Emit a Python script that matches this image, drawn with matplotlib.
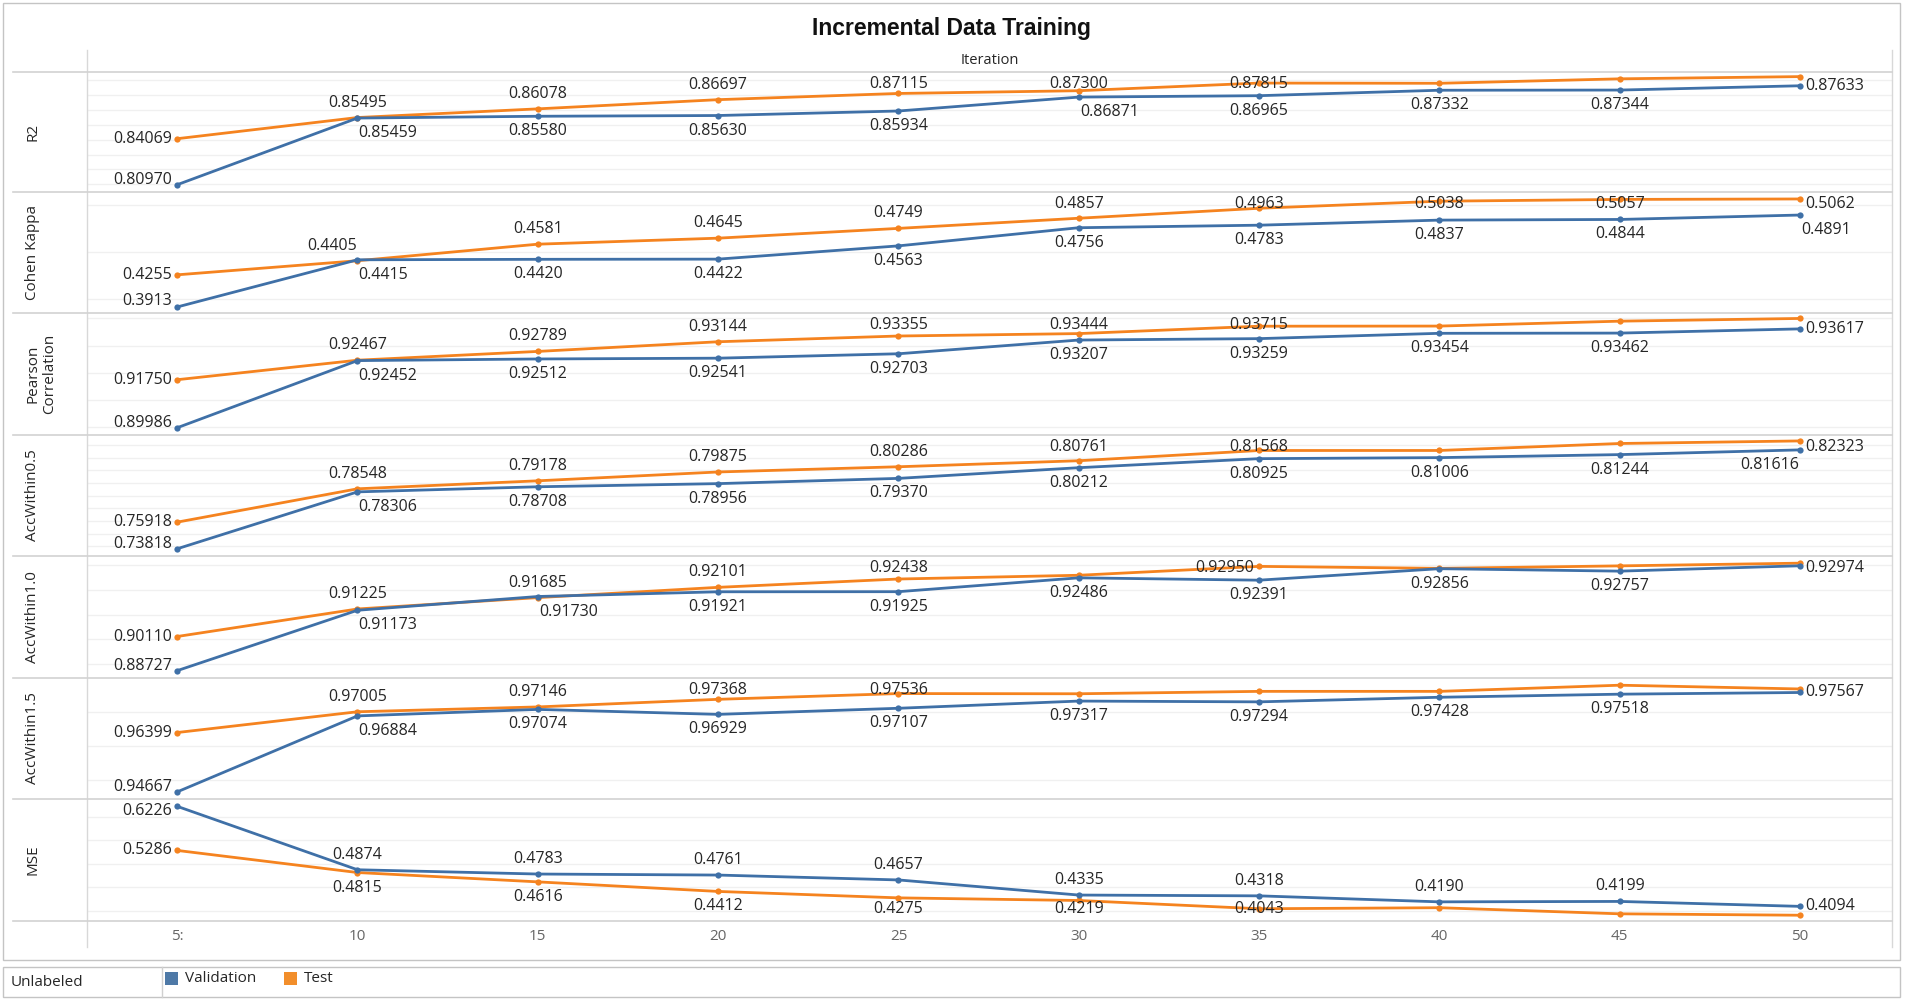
import matplotlib
matplotlib.use('Agg')
import matplotlib.pyplot as plt
from matplotlib.lines import Line2D
from matplotlib.patches import Rectangle
from matplotlib.ticker import MultipleLocator

plt.rcParams['font.family'] = ['Open Sans', 'DejaVu Sans']

# ---------------- data ----------------
iterations = [5, 10, 15, 20, 25, 30, 35, 40, 45, 50]
x_tick_labels = ['5:', '10', '15', '20', '25', '30', '35', '40', '45', '50']
metric_names = ['R2', 'Cohen Kappa', 'Pearson\nCorrelation', 'AccWithin0.5',
                'AccWithin1.0', 'AccWithin1.5', 'MSE']
series_names = ['Validation', 'Test']

r2_validation = [0.80970, 0.85459, 0.85580, 0.85630, 0.85934, 0.86871, 0.86965, 0.87332, 0.87344, 0.87633]
r2_test = [0.84069, 0.85495, 0.86078, 0.86697, 0.87115, 0.87300, 0.87815, 0.8780, 0.8810, 0.8825]
kappa_validation = [0.3913, 0.4415, 0.4420, 0.4422, 0.4563, 0.4756, 0.4783, 0.4837, 0.4844, 0.4891]
kappa_test = [0.4255, 0.4405, 0.4581, 0.4645, 0.4749, 0.4857, 0.4963, 0.5038, 0.5057, 0.5062]
pearson_validation = [0.89986, 0.92452, 0.92512, 0.92541, 0.92703, 0.93207, 0.93259, 0.93454, 0.93462, 0.93617]
pearson_test = [0.91750, 0.92467, 0.92789, 0.93144, 0.93355, 0.93444, 0.93715, 0.9372, 0.9390, 0.9400]
acc05_validation = [0.73818, 0.78306, 0.78708, 0.78956, 0.79370, 0.80212, 0.80925, 0.81006, 0.81244, 0.81616]
acc05_test = [0.75918, 0.78548, 0.79178, 0.79875, 0.80286, 0.80761, 0.81568, 0.8157, 0.8212, 0.82323]
acc10_validation = [0.88727, 0.91173, 0.91730, 0.91921, 0.91925, 0.92486, 0.92391, 0.92856, 0.92757, 0.92974]
acc10_test = [0.90110, 0.91225, 0.91685, 0.92101, 0.92438, 0.9259, 0.92950, 0.9287, 0.9297, 0.9308]
acc15_validation = [0.94667, 0.96884, 0.97074, 0.96929, 0.97107, 0.97317, 0.97294, 0.97428, 0.97518, 0.97567]
acc15_test = [0.96399, 0.97005, 0.97146, 0.97368, 0.97536, 0.9753, 0.9760, 0.9760, 0.9778, 0.9767]
mse_validation = [0.6226, 0.4874, 0.4783, 0.4761, 0.4657, 0.4335, 0.4318, 0.4190, 0.4199, 0.4094]
mse_test = [0.5286, 0.4815, 0.4616, 0.4412, 0.4275, 0.4219, 0.4043, 0.4065, 0.3935, 0.3905]

validation_series = [r2_validation, kappa_validation, pearson_validation, acc05_validation,
                     acc10_validation, acc15_validation, mse_validation]
test_series = [r2_test, kappa_test, pearson_test, acc05_test, acc10_test, acc15_test, mse_test]
label_decimals = [5, 4, 5, 5, 5, 5, 4]

# ---------------- label placement (Tableau-like) ----------------
val_label_pos = [
    ['l', 'br', 'b', 'b', 'b', 'br', 'b', 'b', 'b', 'r'],
    ['l', 'br', 'b', 'b', 'b', 'b', 'b', 'b', 'b', 'br'],
    ['l', 'br', 'b', 'b', 'b', 'b', 'b', 'b', 'b', 'r'],
    ['l', 'br', 'b', 'b', 'b', 'b', 'b', 'b', 'b', 'bl'],
    ['l', 'br', 'br', 'b', 'b', 'b', 'b', 'b', 'b', 'r'],
    ['l', 'br', 'b', 'b', 'b', 'b', 'b', 'b', 'b', 'r'],
    ['l', 'a', 'a', 'a', 'a', 'a', 'a', 'a', 'a', 'r'],
]
test_label_pos = [
    ['l', 'a', 'a', 'a', 'a', 'a', 'a', '', '', ''],
    ['l', 'al', 'a', 'a', 'a', 'a', 'a', 'a', 'a', 'r'],
    ['l', 'a', 'a', 'a', 'a', 'a', 'a', '', '', ''],
    ['l', 'a', 'a', 'a', 'a', 'a', 'a', '', '', 'r'],
    ['l', 'a', 'a', 'a', 'a', '', 'l', '', '', ''],
    ['l', 'a', 'a', 'a', 'a', '', '', '', '', ''],
    ['l', 'b', 'b', 'b', 'b', 'b', 'b', '', '', ''],
]
y_limits = [(0.8048, 0.8856), (0.3849, 0.5136), (0.8972, 0.9420), (0.7325, 0.8279),
            (0.8843, 0.9337), (0.9446, 0.9799), (0.3782, 0.6382)]
grid_steps = [0.01, 0.05, 0.01, 0.01, 0.01, 0.01, 0.05]
row_label_x = [33, 33, 41, 33, 33, 33, 33]

# ---------------- styles ----------------
W, H = 1905, 1001
BLUE = '#3F70A7'
ORANGE = '#F5831F'
TXT = '#262626'
SEP = '#d2d2d2'

fig = plt.figure(figsize=(W / 100, H / 100), dpi=100)
fig.patch.set_facecolor('white')


def fx(x):
    return x / W


def fy(y):
    return 1 - y / H


def hline(y, x0, x1, color=SEP, lw=1.2):
    fig.add_artist(Line2D([fx(x0), fx(x1)], [fy(y), fy(y)], color=color, lw=lw,
                          transform=fig.transFigure))


def vline(x, y0, y1, color=SEP, lw=1.0):
    fig.add_artist(Line2D([fx(x), fx(x)], [fy(y0), fy(y1)], color=color, lw=lw,
                          transform=fig.transFigure))


boundaries = [72, 192, 313, 435, 556, 678, 799, 921]
PLOT_L, PLOT_R = 87, 1892

# outer frame
fig.add_artist(Rectangle((fx(3), fy(960)), fx(1900) - fx(3), fy(3) - fy(960),
                         transform=fig.transFigure, fill=False, ec='#c4c4c4', lw=1.0))
vline(PLOT_L, 50, 947, color='#d8d8d8')
vline(PLOT_R, 50, 947, color='#d8d8d8')
for b in boundaries:
    hline(b, 13, PLOT_R)

fig.text(fx(952), fy(28), 'Incremental Data Training', ha='center', va='center',
         fontsize=16.5, fontweight='bold', family=['Liberation Sans', 'DejaVu Sans'],
         color='#111111')
fig.text(fx((PLOT_L + PLOT_R) / 2), fy(61), 'Iteration', ha='center', va='center',
         fontsize=10.5, color=TXT)

offsets = {
    'a': (0, 15, 'center'),
    'b': (0, -15, 'center'),
    'l': (-5, 0, 'right'),
    'r': (5, 0, 'left'),
    'br': (1, -15, 'left'),
    'bl': (-1, -15, 'right'),
    'al': (0, 15, 'right'),
}
MARGIN = 12

for i, name in enumerate(metric_names):
    top, bot = boundaries[i], boundaries[i + 1]
    ax = fig.add_axes([fx(PLOT_L), fy(bot), fx(PLOT_R) - fx(PLOT_L), fy(top) - fy(bot)])
    ax.set_facecolor('none')
    for s in ax.spines.values():
        s.set_visible(False)
    ax.set_xlim(2.5, 52.55)
    ax.set_ylim(*y_limits[i])
    ax.yaxis.set_major_locator(MultipleLocator(grid_steps[i]))
    ax.grid(axis='y', color='#f0f0f0', lw=1.0)
    ax.set_axisbelow(True)
    ax.tick_params(left=False, labelleft=False, bottom=False, labelbottom=False)
    ax.set_xticks(iterations)
    if i == len(metric_names) - 1:
        ax.set_xticklabels(x_tick_labels)
        ax.tick_params(axis='x', labelbottom=True, length=0, pad=6, labelsize=11,
                       labelcolor='#666666')

    ax.plot(iterations, test_series[i], color=ORANGE, lw=2.0, marker='o', ms=4.5,
            mew=0, zorder=3, solid_capstyle='round')
    ax.plot(iterations, validation_series[i], color=BLUE, lw=2.0, marker='o', ms=4.5,
            mew=0, zorder=4, solid_capstyle='round')

    fig.text(fx(row_label_x[i]), fy((top + bot) / 2), name, rotation=90, ha='center',
             va='center', fontsize=11, color=TXT, linespacing=1.15)

    ax_top_px = H - top
    ax_bot_px = H - bot
    for series, positions in ((test_series[i], test_label_pos[i]),
                              (validation_series[i], val_label_pos[i])):
        for x, v, pos in zip(iterations, series, positions):
            if not pos:
                continue
            dx, dy, ha = offsets[pos]
            px, py = ax.transData.transform((x, v))
            cy = py + dy
            cy = min(max(cy, ax_bot_px + MARGIN), ax_top_px - MARGIN)
            ax.annotate(f'{v:.{label_decimals[i]}f}', xy=(x, v), xytext=(dx, cy - py),
                        textcoords='offset pixels', ha=ha, va='center', fontsize=11.5,
                        color=TXT, zorder=5, annotation_clip=False)

# legend strip
fig.add_artist(Rectangle((fx(3), fy(997)), fx(1900) - fx(3), fy(967) - fy(997),
                         transform=fig.transFigure, fill=False, ec='#c4c4c4', lw=1.0))
vline(162, 967, 997, color='#d0d0d0')
fig.text(fx(11), fy(983), 'Unlabeled', ha='left', va='center', fontsize=11, color=TXT)
legend_items = [(165, 185, '#4E79A7'), (284, 304, '#F28E2B')]
for (sx, tx, col), lab in zip(legend_items, series_names):
    fig.add_artist(Rectangle((fx(sx), fy(985)), fx(sx + 13) - fx(sx), fy(972) - fy(985),
                             transform=fig.transFigure, color=col, lw=0))
    fig.text(fx(tx), fy(978), lab, ha='left', va='center', fontsize=11, color=TXT)

fig.savefig('out.png', dpi=100, facecolor='white')
